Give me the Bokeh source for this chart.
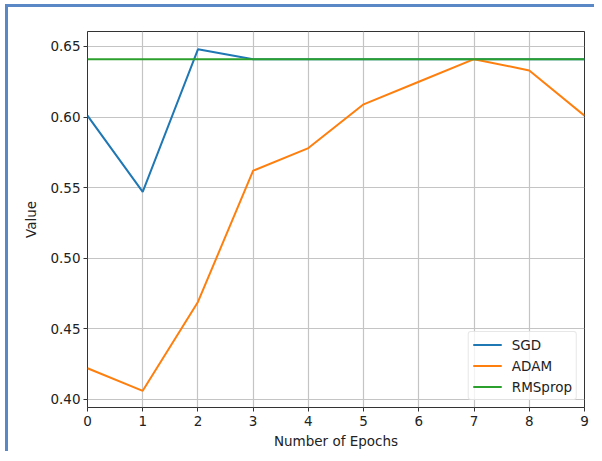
from bokeh.plotting import figure
from bokeh.models import Range1d, FixedTicker, NumeralTickFormatter, Legend, LegendItem, InlineStyleSheet
from bokeh.embed import file_html
from bokeh.resources import INLINE

epochs = [0, 1, 2, 3, 4, 5, 6, 7, 8, 9]
sgd = [0.601, 0.547, 0.648, 0.641, 0.641, 0.641, 0.641, 0.641, 0.641, 0.641]
adam = [0.422, 0.406, 0.469, 0.562, 0.578, 0.609, 0.625, 0.641, 0.633, 0.601]
rmsprop = [0.641, 0.641, 0.641, 0.641, 0.641, 0.641, 0.641, 0.641, 0.641, 0.641]
y_ticks = [0.40, 0.45, 0.50, 0.55, 0.60, 0.65]
x_ticks = [0, 1, 2, 3, 4, 5, 6, 7, 8, 9]

FONT = "DejaVu Sans"
FS = "13.5px"
BLUE = "#5a88c6"

p = figure(width=594, height=451, output_backend="svg", toolbar_location=None,
           x_range=Range1d(0, 9), y_range=Range1d(0.3942, 0.6606),
           min_border_left=87, min_border_right=10, min_border_top=31, min_border_bottom=44,
           background_fill_color="white", border_fill_color="white")

# blue screenshot frame drawn with CSS inside the plot's box
p.stylesheets = [InlineStyleSheet(css=f"""
:host {{ position: relative; }}
:host::before {{ content: ""; position: absolute; left: 5px; top: 4px; width: 3px; height: 447px;
                 background: {BLUE}; z-index: 100; pointer-events: none; }}
:host::after {{ content: ""; position: absolute; left: 5px; top: 4px; width: 589px; height: 3px;
                background: {BLUE}; z-index: 100; pointer-events: none; }}
""")]

p.outline_line_color = "black"
p.outline_line_width = 1
p.outline_line_alpha = 0.8

for ax in (p.xaxis[0], p.yaxis[0]):
    ax.axis_line_color = None
    ax.major_tick_line_color = "#333333"
    ax.major_tick_in = 0
    ax.major_tick_out = 4
    ax.minor_tick_line_color = None
    ax.major_label_text_font = FONT
    ax.major_label_text_font_size = FS
    ax.major_label_text_color = "#222222"
    ax.axis_label_text_font = FONT
    ax.axis_label_text_font_size = FS
    ax.axis_label_text_font_style = "normal"
    ax.axis_label_text_color = "#222222"

p.xaxis.major_label_text_line_height = 1.0
p.xaxis.axis_label_text_line_height = 1.0

p.xaxis.ticker = FixedTicker(ticks=x_ticks)
p.yaxis.ticker = FixedTicker(ticks=y_ticks)
p.yaxis.formatter = NumeralTickFormatter(format="0.00")
p.xaxis.axis_label = "Number of Epochs"
p.yaxis.axis_label = "Value"
p.xaxis.major_label_standoff = 4
p.yaxis.major_label_standoff = 3
p.xaxis.axis_label_standoff = 4
p.yaxis.axis_label_standoff = 8

p.grid.grid_line_color = "#c4c4c4"
p.grid.grid_line_width = 1.2

r1 = p.line(epochs, sgd, line_color="#1f77b4", line_width=2)
r2 = p.line(epochs, adam, line_color="#ff7f0e", line_width=2)
r3 = p.line(epochs, rmsprop, line_color="#2ca02c", line_width=2)

legend = Legend(items=[LegendItem(label="SGD", renderers=[r1]),
                       LegendItem(label="ADAM", renderers=[r2]),
                       LegendItem(label="RMSprop", renderers=[r3])],
                location="bottom_right", margin=7, padding=4, spacing=4,
                label_height=17, glyph_height=17, glyph_width=29, label_standoff=10,
                label_text_font=FONT, label_text_font_size=FS, label_text_color="#222222",
                border_line_color="#d0d0d0", border_line_width=1, border_radius=3,
                background_fill_color="white", background_fill_alpha=0.8)
p.add_layout(legend)

open("out.html", "w").write(file_html(p, INLINE))
